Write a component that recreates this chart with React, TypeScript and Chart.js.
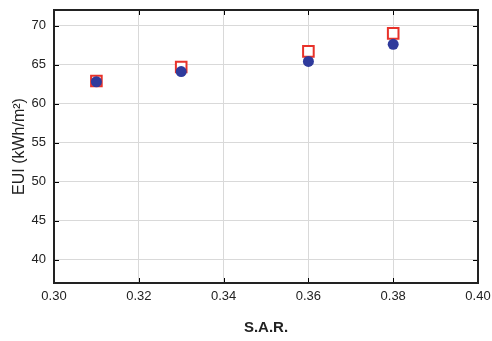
import React, { useEffect, useRef } from "react";
import { Chart, registerables } from "chart.js";

Chart.register(...registerables);

const sarValues = [0.31, 0.33, 0.36, 0.38];
const seriesSquare = [62.9, 64.7, 66.7, 69.0];
const seriesCircle = [62.8, 64.1, 65.4, 67.6];
const xTicks = [0.3, 0.32, 0.34, 0.36, 0.38, 0.4];
const yTicks = [40, 45, 50, 55, 60, 65, 70];

const boxPlugin = {
  id: "boxTicks",
  afterDatasetsDraw(chart: any) {
    const { ctx, chartArea: a, scales } = chart;
    const xs = scales.x;
    const ys = scales.y;
    ctx.save();
    ctx.strokeStyle = "#000";
    ctx.lineWidth = 1;
    const len = 5;
    ctx.beginPath();
    xTicks.forEach((v) => {
      const px = Math.round(xs.getPixelForValue(v)) + 0.5;
      ctx.moveTo(px, a.bottom);
      ctx.lineTo(px, a.bottom - len);
      ctx.moveTo(px, a.top);
      ctx.lineTo(px, a.top + len);
    });
    yTicks.forEach((v) => {
      const py = Math.round(ys.getPixelForValue(v)) + 0.5;
      ctx.moveTo(a.left, py);
      ctx.lineTo(a.left + len, py);
      ctx.moveTo(a.right, py);
      ctx.lineTo(a.right - len, py);
    });
    ctx.stroke();
    ctx.lineWidth = 2;
    ctx.strokeStyle = "#222";
    ctx.strokeRect(a.left, a.top, a.right - a.left, a.bottom - a.top);
    ctx.restore();
  },
};

export default function App() {
  const ref = useRef<HTMLCanvasElement | null>(null);
  useEffect(() => {
    document.body.style.margin = "0";
    const chart = new Chart(ref.current as HTMLCanvasElement, {
      type: "scatter",
      data: {
        datasets: [
          {
            label: "square",
            data: sarValues.map((x, i) => ({ x, y: seriesSquare[i] })),
            pointStyle: "rect",
            pointRadius: 7.5,
            borderColor: "#e8322a",
            backgroundColor: "#ffffff",
            borderWidth: 2,
            order: 2,
          },
          {
            label: "circle",
            data: sarValues.map((x, i) => ({ x, y: seriesCircle[i] })),
            pointStyle: "circle",
            pointRadius: 5.5,
            borderColor: "#2f3a9c",
            backgroundColor: "#2f3a9c",
            borderWidth: 0,
            order: 1,
          },
        ],
      },
      options: {
        animation: false,
        responsive: false,
        layout: { padding: { left: 0, right: 14, top: 10, bottom: 0 } },
        plugins: { legend: { display: false }, tooltip: { enabled: false } },
        scales: {
          x: {
            type: "linear",
            min: 0.3,
            max: 0.4,
            afterBuildTicks: (s: any) => {
              s.ticks = xTicks.map((v) => ({ value: v }));
            },
            afterFit: (s: any) => {
              s.height = 58;
              s.paddingLeft = 0;
              s.paddingRight = 0;
            },
            ticks: {
              color: "#222",
              font: { family: "Liberation Sans", size: 13 },
              padding: 6,
              callback: (v: any) => Number(v).toFixed(2),
            },
            grid: { color: "#d9d9d9", lineWidth: 1, drawTicks: false },
            border: { display: false },
            title: {
              display: true,
              text: "S.A.R.",
              color: "#222",
              font: { family: "Liberation Sans", size: 15, weight: "bold" },
              padding: { top: 12 },
            },
          },
          y: {
            type: "linear",
            min: 37,
            max: 72,
            afterBuildTicks: (s: any) => {
              s.ticks = yTicks.map((v) => ({ value: v }));
            },
            afterFit: (s: any) => {
              s.width = 54;
              s.paddingTop = 0;
              s.paddingBottom = 0;
            },
            ticks: {
              color: "#222",
              font: { family: "Liberation Sans", size: 13 },
              padding: 8,
            },
            grid: { color: "#d9d9d9", lineWidth: 1, drawTicks: false },
            border: { display: false },
            title: {
              display: true,
              text: "EUI (kWh/m²)",
              color: "#222",
              font: { family: "Liberation Sans", size: 16 },
              padding: { top: 10, bottom: 0 },
            },
          },
        },
      },
      plugins: [boxPlugin],
    });
    return () => chart.destroy();
  }, []);
  return (
    <div style={{ width: 492, height: 341, background: "#fff" }}>
      <canvas ref={ref} width={492} height={341} />
    </div>
  );
}
